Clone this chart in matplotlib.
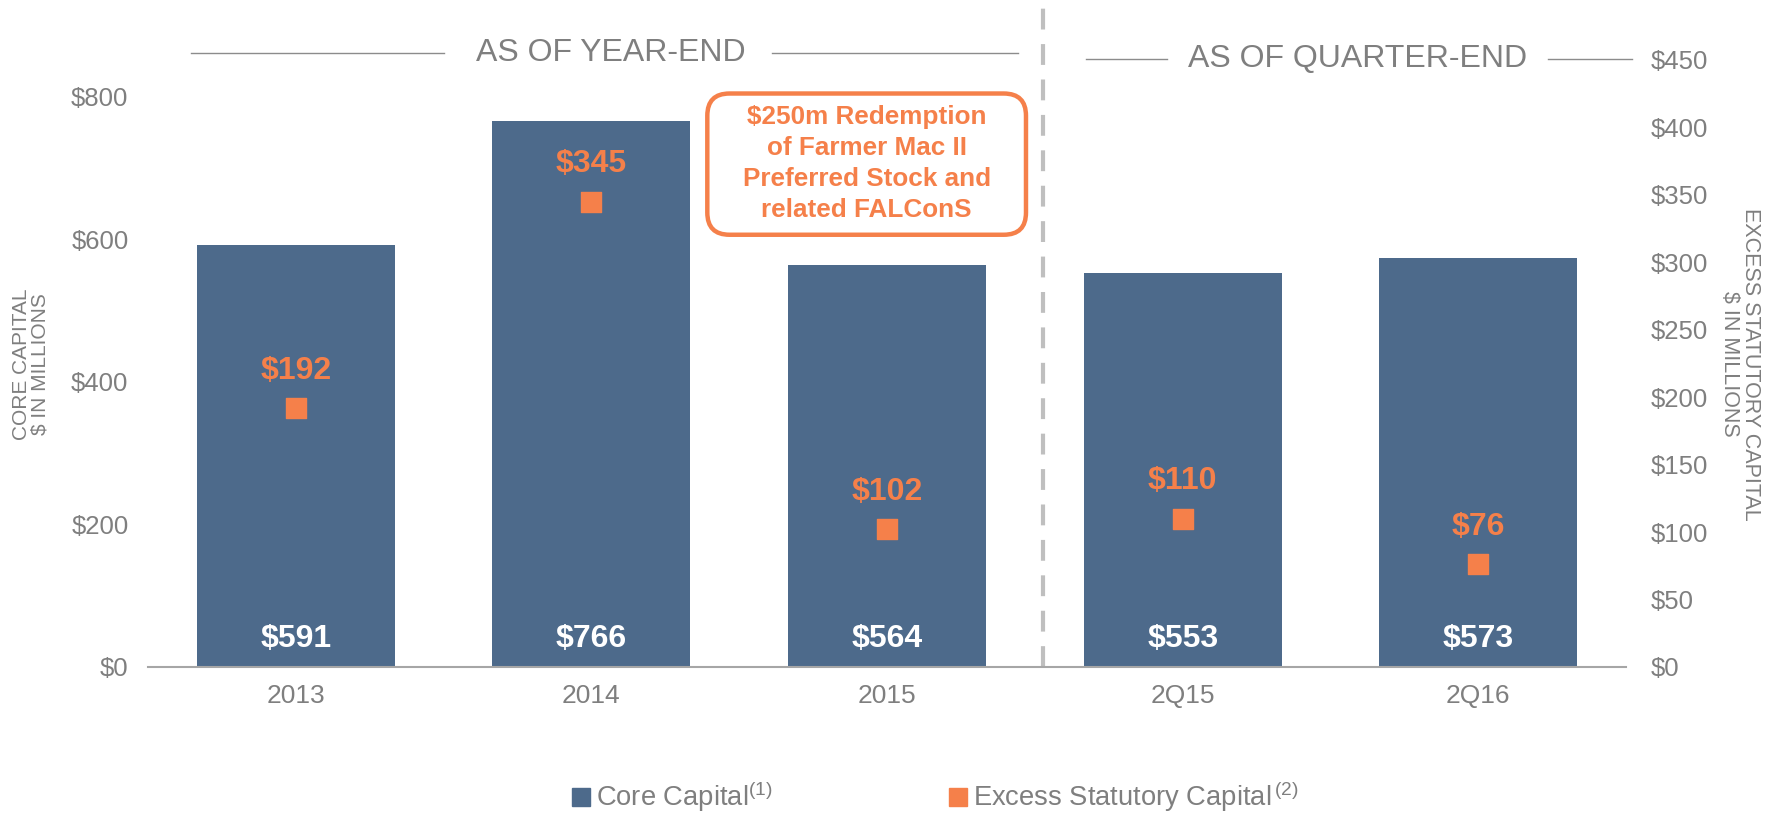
import matplotlib
matplotlib.use("Agg")
import matplotlib.pyplot as plt
from matplotlib.lines import Line2D
from matplotlib.patches import FancyBboxPatch

plt.rcParams['font.family'] = ['Liberation Sans', 'DejaVu Sans']
plt.rcParams['mathtext.fontset'] = 'custom'
plt.rcParams['mathtext.rm'] = 'Liberation Sans'
plt.rcParams['mathtext.default'] = 'rm'

categories = ['2013', '2014', '2015', '2Q15', '2Q16']
core_capital = [591, 766, 564, 553, 573]
excess_capital = [192, 345, 102, 110, 76]
left_ticks = [0, 200, 400, 600, 800]
right_ticks = [0, 50, 100, 150, 200, 250, 300, 350, 400, 450]

BLUE = '#4D6A8B'
ORANGE = '#F5804A'
GRAY = '#7F7F7F'

FW, FH = 17.83, 8.14
AX_RECT = [0.083, 0.1806, 0.829, 0.7457]
XLIM = (-0.5, 4.5)
YLIM = (0, 851)

fig = plt.figure(figsize=(FW, FH), dpi=100)
ax = fig.add_axes(AX_RECT)
ax2 = ax.twinx()

x = list(range(len(categories)))
ax.bar(x, core_capital, width=0.67, color=BLUE, zorder=2)
ax.set_xlim(*XLIM)
ax.set_ylim(*YLIM)
ax.set_yticks(left_ticks)
ax.set_yticklabels([f'${v}' for v in left_ticks])
ax.set_xticks(x)
ax.set_xticklabels(categories)
ax.tick_params(axis='both', length=0, labelsize=18.5, colors=GRAY)
ax.tick_params(axis='x', labelsize=19, pad=12)
ax.tick_params(axis='y', pad=14)
for s in ['top', 'right', 'left']:
    ax.spines[s].set_visible(False)
ax.spines['bottom'].set_color('#A6A6A6')
ax.spines['bottom'].set_linewidth(1.5)

for xi, v in zip(x, core_capital):
    ax.annotate(f'${v}', xy=(xi, 0), xytext=(0, 20), textcoords='offset points',
                ha='center', va='center', color='white', fontsize=23, fontweight='bold', zorder=3)

ax2.scatter(x, excess_capital, marker='s', s=14**2, color=ORANGE, zorder=4)
ax2.set_ylim(0, 450)
ax2.set_yticks(right_ticks)
ax2.set_yticklabels([f'${v}' for v in right_ticks])
ax2.tick_params(axis='y', length=0, labelsize=18.5, colors=GRAY, pad=18)
for s in ['top', 'right', 'left', 'bottom']:
    ax2.spines[s].set_visible(False)
for xi, v in zip(x, excess_capital):
    ax2.annotate(f'${v}', xy=(xi, v), xytext=(0, 27), textcoords='offset points',
                 ha='center', va='center', color=ORANGE, fontsize=23, fontweight='bold')

# Dashed divider
ax.plot([2.527, 2.527], [0, 1.1], transform=ax.get_xaxis_transform(), color='#BFBFBF',
        lw=3, ls=(0, (5, 3.5)), clip_on=False, zorder=1)

# Section headings
tr = ax.get_xaxis_transform()
ax.plot([-0.354, 0.503], [1.0115, 1.0115], transform=tr, color='#8C8C8C', lw=1, clip_on=False)
ax.plot([1.611, 2.443], [1.0115, 1.0115], transform=tr, color='#8C8C8C', lw=1, clip_on=False)
ax.text(1.064, 1.0115, 'AS OF YEAR-END', transform=tr, ha='center', va='center',
        fontsize=23, color=GRAY)
ax.plot([2.672, 2.946], [1.0016, 1.0016], transform=tr, color='#8C8C8C', lw=1, clip_on=False)
ax.plot([4.236, 4.52], [1.0016, 1.0016], transform=tr, color='#8C8C8C', lw=1, clip_on=False)
ax.text(3.591, 1.0016, 'AS OF QUARTER-END', transform=tr, ha='center', va='center',
        fontsize=23, color=GRAY)

# Annotation box (rounded, circular corners in pixel space)
px_per_x = FW * 100 * AX_RECT[2] / (XLIM[1] - XLIM[0])
px_per_y = FH * 100 * AX_RECT[3] / (YLIM[1] - YLIM[0])
bx0, bx1, by0, by1 = 1.392, 2.470, 606, 804
box = FancyBboxPatch((bx0, by0), bx1 - bx0, by1 - by0,
                     boxstyle='round,pad=0,rounding_size=0.075',
                     mutation_aspect=px_per_x / px_per_y,
                     fc='white', ec=ORANGE, lw=3.2, zorder=5)
ax.add_patch(box)
ax.text((bx0 + bx1) / 2, (by0 + by1) / 2 + 1,
        '\\$250m Redemption\nof Farmer Mac II\nPreferred Stock and\nrelated FALConS',
        ha='center', va='center', fontsize=18.8, fontweight='bold', color=ORANGE,
        linespacing=1.38, zorder=6)

# Axis titles
fig.text(31/1783, 1-364/814, 'CORE CAPITAL\n$ IN MILLIONS', rotation=90, ha='center', va='center',
         fontsize=15, color=GRAY, multialignment='center', linespacing=0.95)
fig.text(1740/1783, 1-364/814, 'EXCESS STATUTORY CAPITAL\n$ IN MILLIONS', rotation=270, ha='center',
         va='center', fontsize=15.5, color=GRAY, multialignment='center', linespacing=0.95)

# Legend
handles = [Line2D([], [], marker='s', ls='none', color=BLUE, markersize=13),
           Line2D([], [], marker='s', ls='none', color=ORANGE, markersize=13)]
labels = ['Core Capital$^{(1)}$', 'Excess Statutory Capital$^{\\,(2)}$']
leg = fig.legend(handles, labels, loc='center', bbox_to_anchor=(0.5244, 1-797/814), ncol=2,
                 frameon=False, fontsize=19.7, handletextpad=0.2, columnspacing=6.4,
                 handlelength=0.7, borderpad=0)
for t in leg.get_texts():
    t.set_color(GRAY)

fig.savefig('out.png', dpi=100)
